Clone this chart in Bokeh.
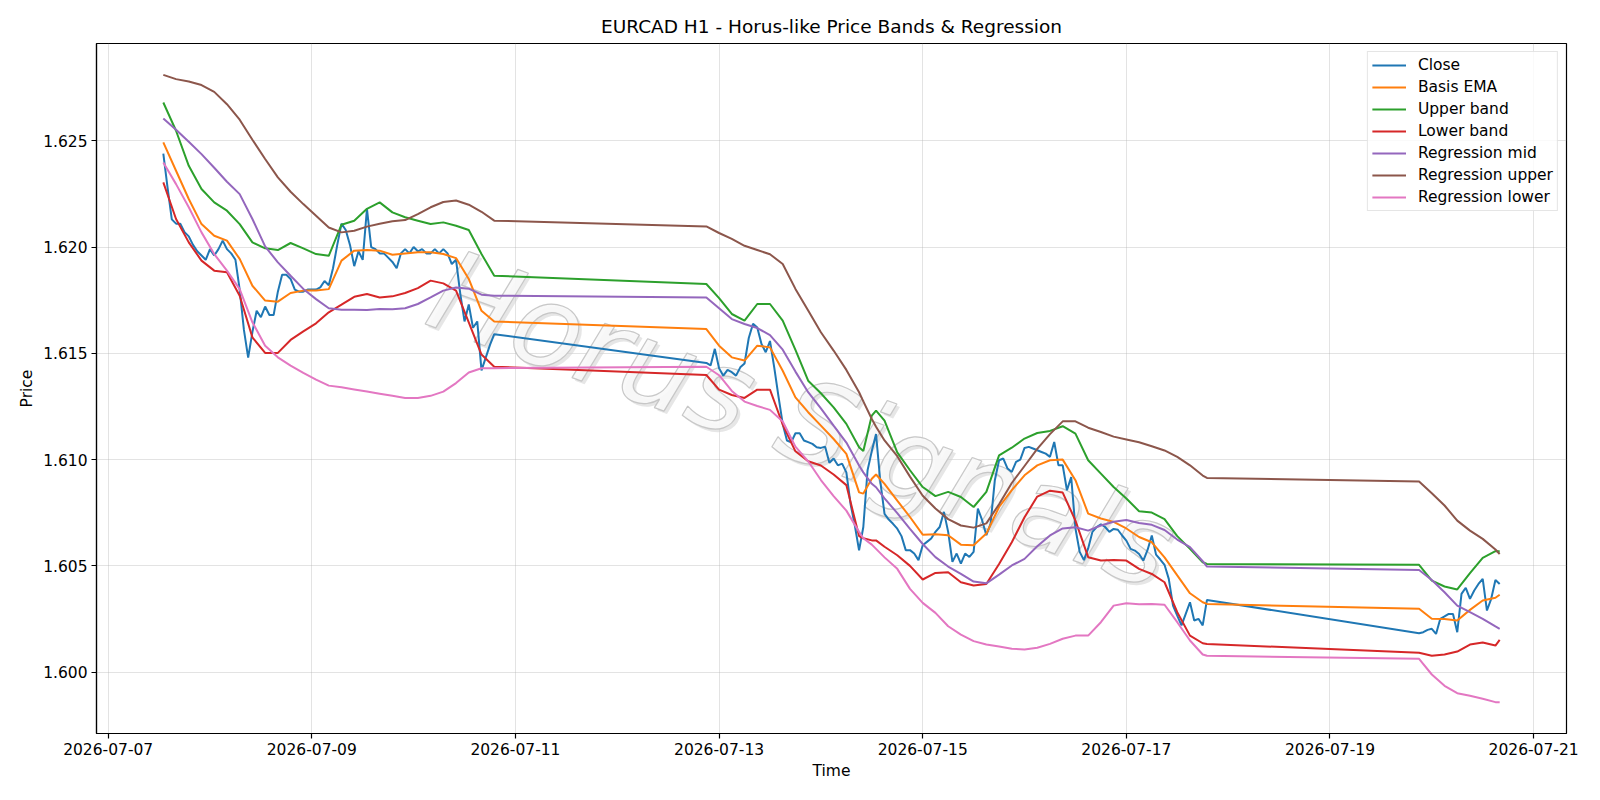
import numpy as np
import pandas as pd
from bokeh.plotting import figure
from bokeh.models import (Range1d, FixedTicker, NumeralTickFormatter,
                          DatetimeTickFormatter, Label)
from bokeh.embed import file_html
from bokeh.resources import INLINE

# ---------------- data ----------------
TITLE = "EURCAD H1 - Horus-like Price Bands & Regression"
WATERMARK = "Horus Signals"
BASE_TIME = "2026-07-07 00:00"

# Close prices, hourly, one list per trading session
session_starts = ["2026-07-07 13:00", "2026-07-12 21:00", "2026-07-19 21:00"]
close_session1 = [
    1.6244, 1.6228, 1.6213, 1.6211, 1.6211, 1.6207, 1.6205, 1.6201, 1.6198, 1.6196,
    1.6194, 1.6199, 1.6196, 1.6199, 1.6203, 1.6199, 1.6197, 1.6194, 1.6180, 1.6161,
    1.6148, 1.6160, 1.6170, 1.6167, 1.6172, 1.6168, 1.6168, 1.6179, 1.6187, 1.6187,
    1.6185, 1.6180, 1.6179, 1.6179, 1.6180, 1.6180, 1.6180, 1.6181, 1.6184, 1.6182,
    1.6190, 1.6201, 1.6211, 1.6208, 1.6201, 1.6191, 1.6198, 1.6194, 1.6218, 1.6200,
    1.6199, 1.6197, 1.6197, 1.6195, 1.6193, 1.6190, 1.6197, 1.6199, 1.6197, 1.6200,
    1.6198, 1.6199, 1.6197, 1.6197, 1.6199, 1.6197, 1.6199, 1.6197, 1.6192, 1.6194,
    1.6178, 1.6165, 1.6173, 1.6162, 1.6165, 1.6142, 1.6148, 1.6154, 1.6159]
close_session2 = [
    1.61455, 1.61443, 1.61521, 1.61430, 1.61395, 1.61422, 1.61411, 1.61395, 1.61434, 1.61452,
    1.61572, 1.61639, 1.61621, 1.61544, 1.61505, 1.61558, 1.61434, 1.61297, 1.61168, 1.61090,
    1.61081, 1.61124, 1.61124, 1.61090, 1.61082, 1.61074, 1.61058, 1.61055, 1.61061, 1.60985,
    1.61005, 1.60973, 1.60981, 1.60940, 1.60790, 1.60690, 1.60573, 1.60683, 1.60950, 1.61040,
    1.61120, 1.60898, 1.60745, 1.60718, 1.60698, 1.60675, 1.60640, 1.60574, 1.60574, 1.60558,
    1.60527, 1.60597, 1.60613, 1.60629, 1.60660, 1.60683, 1.60754, 1.60660, 1.60519, 1.60558,
    1.60511, 1.60558, 1.60542, 1.60566, 1.60770, 1.60715, 1.60644, 1.60699, 1.60903, 1.60997,
    1.61005, 1.60958, 1.60942, 1.60989, 1.61000, 1.61055, 1.61060, 1.61052, 1.61044, 1.61036,
    1.61028, 1.61013, 1.61083, 1.60973, 1.60973, 1.60856, 1.60918, 1.60676, 1.60566, 1.60527,
    1.60582, 1.60660, 1.60683, 1.60696, 1.60683, 1.60660, 1.60674, 1.60670, 1.60643, 1.60619,
    1.60580, 1.60572, 1.60556, 1.60525, 1.60575, 1.60643, 1.60553, 1.60530, 1.60505, 1.60439,
    1.60313, 1.60266, 1.60220, 1.60274, 1.60329, 1.60243, 1.60251, 1.60220, 1.60340]
close_session3 = [
    1.60183, 1.60188, 1.60199, 1.60204, 1.60180, 1.60251, 1.60262, 1.60274, 1.60274, 1.60188,
    1.60368, 1.60397, 1.60345, 1.60384, 1.60415, 1.60439, 1.60290, 1.60345, 1.60434, 1.60415]

# Hours after BASE_TIME at which the band / regression lines were read
band_hours = [
    13, 16, 19, 22, 25, 28, 31, 34, 37, 40, 43, 46, 49, 52, 55, 58, 61, 64, 67, 70,
    73, 76, 79, 82, 85, 88, 91,
    141, 144, 147, 150, 153, 156, 159, 162, 165, 168, 171, 174, 177, 178, 180, 181, 183,
    186, 189, 192, 195, 198, 201, 204, 207, 210, 213, 216, 219, 222, 225, 228, 231, 234,
    237, 240, 243, 246, 249, 252, 255, 258, 259,
    309, 312, 315, 318, 321, 324, 327, 328]

basis_ema = [
    1.62492, 1.62359, 1.62226, 1.62108, 1.62053, 1.62030, 1.61944, 1.61818, 1.61748, 1.61743,
    1.61784, 1.61795, 1.61795, 1.61802, 1.61936, 1.61983, 1.61986, 1.61983, 1.61964, 1.61970,
    1.61975, 1.61975, 1.61967, 1.61948, 1.61850, 1.61700, 1.61650,
    1.61614, 1.61536, 1.61481, 1.61466, 1.61536, 1.61528, 1.61418, 1.61293, 1.61223, 1.61160,
    1.61097, 1.61027, 1.60846, 1.60840, 1.60910, 1.60930, 1.60886, 1.60807, 1.60730, 1.60647,
    1.60649, 1.60644, 1.60600, 1.60597, 1.60652, 1.60777, 1.60856, 1.60926, 1.60973, 1.60997,
    1.61000, 1.60903, 1.60746, 1.60723, 1.60707, 1.60676, 1.60636, 1.60611, 1.60540, 1.60455,
    1.60371, 1.60329, 1.60321,
    1.60298, 1.60251, 1.60250, 1.60243, 1.60293, 1.60337, 1.60350, 1.60364]
upper_band = [
    1.62680, 1.62547, 1.62382, 1.62273, 1.62210, 1.62171, 1.62108, 1.62022, 1.61994, 1.61986,
    1.62019, 1.61994, 1.61967, 1.61959, 1.62105, 1.62124, 1.62180, 1.62210, 1.62163, 1.62140,
    1.62124, 1.62108, 1.62116, 1.62100, 1.62080, 1.61967, 1.61865,
    1.61826, 1.61760, 1.61685, 1.61654, 1.61732, 1.61732, 1.61654, 1.61516, 1.61371, 1.61312,
    1.61246, 1.61168, 1.61058, 1.61040, 1.61207, 1.61230, 1.61183, 1.61034, 1.60950, 1.60871,
    1.60828, 1.60848, 1.60824, 1.60777, 1.60848, 1.61020, 1.61056, 1.61099, 1.61125, 1.61135,
    1.61157, 1.61122, 1.60997, 1.60934, 1.60871, 1.60817, 1.60757, 1.60751, 1.60720, 1.60640,
    1.60580, 1.60517, 1.60509,
    1.60505, 1.60431, 1.60403, 1.60389, 1.60466, 1.60538, 1.60569, 1.60569]
lower_band = [
    1.62304, 1.62132, 1.62022, 1.61936, 1.61889, 1.61881, 1.61771, 1.61575, 1.61502, 1.61502,
    1.61563, 1.61603, 1.61641, 1.61693, 1.61729, 1.61766, 1.61779, 1.61763, 1.61768, 1.61784,
    1.61807, 1.61842, 1.61829, 1.61795, 1.61646, 1.61494, 1.61437,
    1.61398, 1.61329, 1.61304, 1.61290, 1.61329, 1.61329, 1.61165, 1.61039, 1.60992, 1.60972,
    1.60930, 1.60880, 1.60640, 1.60630, 1.60620, 1.60620, 1.60590, 1.60550, 1.60500, 1.60436,
    1.60467, 1.60470, 1.60423, 1.60408, 1.60415, 1.60509, 1.60611, 1.60729, 1.60826, 1.60854,
    1.60845, 1.60713, 1.60541, 1.60525, 1.60528, 1.60525, 1.60486, 1.60462, 1.60423, 1.60282,
    1.60172, 1.60136, 1.60133,
    1.60091, 1.60077, 1.60083, 1.60097, 1.60130, 1.60140, 1.60125, 1.60152]
regression_mid = [
    1.62605, 1.62552, 1.62495, 1.62437, 1.62373, 1.62307, 1.62249, 1.62132, 1.62003, 1.61928,
    1.61865, 1.61803, 1.61755, 1.61712, 1.61705, 1.61705, 1.61704, 1.61708, 1.61707, 1.61712,
    1.61732, 1.61763, 1.61795, 1.61810, 1.61804, 1.61776, 1.61771,
    1.61763, 1.61712, 1.61661, 1.61638, 1.61619, 1.61586, 1.61517, 1.61414, 1.61317, 1.61241,
    1.61160, 1.61080, 1.60972, 1.60940, 1.60886, 1.60870, 1.60818, 1.60748, 1.60674, 1.60603,
    1.60541, 1.60497, 1.60462, 1.60426, 1.60418, 1.60459, 1.60502, 1.60533, 1.60592, 1.60643,
    1.60676, 1.60682, 1.60666, 1.60690, 1.60708, 1.60716, 1.60702, 1.60693, 1.60669, 1.60624,
    1.60588, 1.60522, 1.60497,
    1.60481, 1.60434, 1.60376, 1.60313, 1.60282, 1.60251, 1.60215, 1.60204]
regression_upper = [
    1.62810, 1.62790, 1.62779, 1.62762, 1.62730, 1.62672, 1.62599, 1.62505, 1.62414, 1.62328,
    1.62260, 1.62202, 1.62147, 1.62092, 1.62069, 1.62077, 1.62096, 1.62110, 1.62121, 1.62127,
    1.62155, 1.62187, 1.62212, 1.62219, 1.62199, 1.62166, 1.62124,
    1.62097, 1.62066, 1.62038, 1.62006, 1.61986, 1.61966, 1.61920, 1.61803, 1.61701, 1.61599,
    1.61513, 1.61422, 1.61317, 1.61274, 1.61191, 1.61155, 1.61090, 1.61016, 1.60920, 1.60830,
    1.60770, 1.60720, 1.60690, 1.60680, 1.60700, 1.60790, 1.60890, 1.60970, 1.61050, 1.61120,
    1.61180, 1.61180, 1.61150, 1.61130, 1.61108, 1.61095, 1.61082, 1.61063, 1.61043, 1.61013,
    1.60973, 1.60925, 1.60914,
    1.60897, 1.60842, 1.60784, 1.60713, 1.60666, 1.60627, 1.60577, 1.60556]
regression_lower = [
    1.62398, 1.62296, 1.62187, 1.62069, 1.61967, 1.61889, 1.61802, 1.61646, 1.61536, 1.61481,
    1.61442, 1.61408, 1.61376, 1.61348, 1.61340, 1.61330, 1.61320, 1.61310, 1.61300, 1.61290,
    1.61290, 1.61300, 1.61320, 1.61360, 1.61410, 1.61430, 1.61430,
    1.61437, 1.61397, 1.61323, 1.61273, 1.61252, 1.61234, 1.61179, 1.61061, 1.60992, 1.60904,
    1.60828, 1.60760, 1.60660, 1.60630, 1.60600, 1.60580, 1.60540, 1.60486, 1.60392, 1.60326,
    1.60279, 1.60216, 1.60177, 1.60146, 1.60130, 1.60121, 1.60110, 1.60107, 1.60115, 1.60133,
    1.60157, 1.60172, 1.60172, 1.60235, 1.60313, 1.60324, 1.60320, 1.60321, 1.60317, 1.60235,
    1.60149, 1.60083, 1.60077,
    1.60063, 1.59989, 1.59936, 1.59901, 1.59889, 1.59875, 1.59859, 1.59859]

x_tick_labels = ["2026-07-07", "2026-07-09", "2026-07-11", "2026-07-13",
                 "2026-07-15", "2026-07-17", "2026-07-19", "2026-07-21"]
y_ticks = [1.600, 1.605, 1.610, 1.615, 1.620, 1.625]

series_names = ["Close", "Basis EMA", "Upper band", "Lower band",
                "Regression mid", "Regression upper", "Regression lower"]
series_colors = ["#1f77b4", "#ff7f0e", "#2ca02c", "#d62728",
                 "#9467bd", "#8c564b", "#e377c2"]

# ---------------- build ----------------
close_times = pd.DatetimeIndex([])
for start, seg in zip(session_starts, [close_session1, close_session2, close_session3]):
    close_times = close_times.append(pd.date_range(start, periods=len(seg), freq="h"))
close_values = close_session1 + close_session2 + close_session3
band_times = pd.Timestamp(BASE_TIME) + pd.to_timedelta(band_hours, unit="h")


def to_ms(t):
    return np.asarray(pd.DatetimeIndex(t).asi8 // 10**6, dtype=float)


close_ms = to_ms(close_times)
band_ms = to_ms(band_times)

all_t = np.concatenate([close_ms, band_ms])
tmin, tmax = all_t.min(), all_t.max()
all_v = np.concatenate([close_values, basis_ema, upper_band, lower_band,
                        regression_mid, regression_upper, regression_lower])
vmin, vmax = all_v.min(), all_v.max()
x0 = tmin - 0.05 * (tmax - tmin)
x1 = tmax + 0.05 * (tmax - tmin)
y0 = vmin - 0.05 * (vmax - vmin)
y1 = vmax + 0.05 * (vmax - vmin)

FONT = "DejaVu Sans"

p = figure(width=1600, height=800, x_axis_type="datetime",
           output_backend="svg", toolbar_location=None,
           x_range=Range1d(x0, x1), y_range=Range1d(y0, y1),
           min_border_left=96, min_border_right=34,
           min_border_top=43, min_border_bottom=67,
           title=TITLE)
p.background_fill_color = "white"
p.border_fill_color = "white"
p.outline_line_color = "black"
p.outline_line_width = 1.2
p.outline_line_alpha = 1.0

p.title.align = "center"
p.title.text_font = FONT
p.title.text_font_size = "18.5px"
p.title.text_font_style = "normal"
p.title.text_color = "black"
p.title.standoff = 14

# watermark
wx = x0 + 0.48 * (x1 - x0)
wy = y0 + 0.455 * (y1 - y0)
WM_SIZE = "114px"
WM_ANGLE = -0.35
try:
    shadow = Label(x=wx, y=wy, x_offset=3, y_offset=-3, text=WATERMARK,
                   text_font=FONT, text_font_size=WM_SIZE, text_font_style="italic",
                   text_color="#d2d2d2", text_alpha=0.55, angle=WM_ANGLE,
                   text_align="center", text_baseline="middle", level="underlay")
    main = Label(x=wx, y=wy, text=WATERMARK,
                 text_font=FONT, text_font_size=WM_SIZE, text_font_style="italic",
                 text_color="#f8f8f8", text_alpha=0.9, text_outline_color="#c2c2c2",
                 angle=WM_ANGLE, text_align="center", text_baseline="middle",
                 level="underlay")
    p.add_layout(shadow)
    p.add_layout(main)
except Exception:
    wm = Label(x=wx, y=wy, text=WATERMARK,
               text_font=FONT, text_font_size=WM_SIZE, text_font_style="italic",
               text_color="#a0a0a0", text_alpha=0.3, angle=WM_ANGLE,
               text_align="center", text_baseline="middle", level="underlay")
    p.add_layout(wm)

ys = [basis_ema, upper_band, lower_band, regression_mid, regression_upper, regression_lower]
p.line(close_ms, close_values, line_color=series_colors[0], line_width=2.0,
       legend_label=series_names[0])
for name, color, vals in zip(series_names[1:], series_colors[1:], ys):
    p.line(band_ms, vals, line_color=color, line_width=2.0, legend_label=name)

# axes
xt = FixedTicker(ticks=list(to_ms(pd.to_datetime(x_tick_labels))))
yt = FixedTicker(ticks=y_ticks)
p.xaxis.ticker = xt
p.yaxis.ticker = yt
p.xgrid.ticker = xt
p.ygrid.ticker = yt
fmt = "%Y-%m-%d"
p.xaxis.formatter = DatetimeTickFormatter(
    milliseconds=fmt, seconds=fmt, minsec=fmt, minutes=fmt, hourmin=fmt,
    hours=fmt, days=fmt, months=fmt, years=fmt)
p.yaxis.formatter = NumeralTickFormatter(format="0.000")
p.xaxis.axis_label = "Time"
p.yaxis.axis_label = "Price"
for ax in (p.xaxis[0], p.yaxis[0]):
    ax.major_label_text_font = FONT
    ax.major_label_text_font_size = "15.5px"
    ax.major_label_text_color = "black"
    ax.axis_label_text_font = FONT
    ax.axis_label_text_font_size = "15.5px"
    ax.axis_label_text_font_style = "normal"
    ax.axis_label_text_color = "black"
    ax.axis_line_color = "black"
    ax.axis_line_width = 1.2
    ax.major_tick_line_color = "black"
    ax.major_tick_line_width = 1.2
    ax.major_tick_in = 0
    ax.major_tick_out = 5
    ax.minor_tick_line_color = None
    ax.major_label_standoff = 4
    ax.axis_label_standoff = 4

for g in (p.xgrid[0], p.ygrid[0]):
    g.grid_line_color = "#b0b0b0"
    g.grid_line_alpha = 0.35
    g.grid_line_width = 1

lg = p.legend[0]
lg.location = "top_right"
lg.margin = 8
lg.padding = 4
lg.spacing = 4
lg.glyph_width = 34
lg.glyph_height = 16
lg.label_height = 16
lg.label_standoff = 12
lg.label_text_font = FONT
lg.label_text_font_size = "15.5px"
lg.label_text_color = "black"
lg.border_line_color = "#cccccc"
lg.border_line_width = 1
lg.background_fill_alpha = 0.8

open("out.html", "w").write(file_html(p, INLINE))
